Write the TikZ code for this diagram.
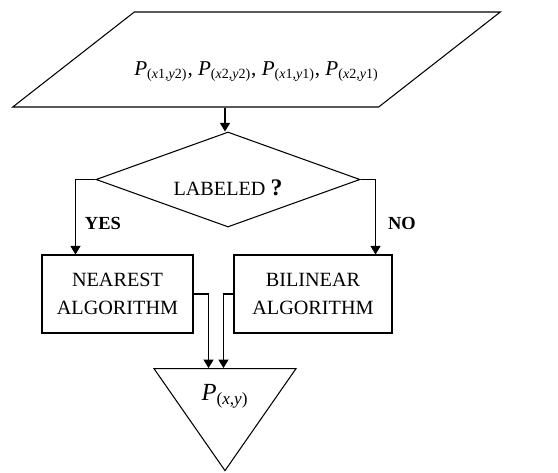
\documentclass[tikz,border=0pt]{standalone}
\usepackage{fontspec}
\setmainfont{Liberation Serif}
\usetikzlibrary{shapes.geometric, arrows.meta, positioning, calc}
\newcommand{\Pnt}[1]{\textit{P}\textsubscript{#1}}
\tikzset{
  iobox/.style={
    trapezium, trapezium left angle=38, trapezium right angle=142,
    draw, line width=0.6pt,
    minimum width=9.7cm,
    inner xsep=0pt, inner ysep=0.64cm, text height=0.62cm, text depth=0pt,
    font=\fontsize{12}{14}\selectfont
  },
  decisionbox/.style={
    diamond, aspect=2.78,
    draw, line width=0.6pt,
    minimum width=5.28cm, minimum height=1.9cm,
    inner sep=0pt, text height=0.62cm, text depth=0pt,
    font=\fontsize{11.5}{14}\selectfont
  },
  algbox/.style={
    rectangle, draw, line width=0.6pt,
    minimum height=1.56cm, align=center,
    font=\fontsize{11.5}{16}\selectfont
  },
  outbox/.style={
    isosceles triangle, shape border rotate=270,
    isosceles triangle stretches,
    draw, line width=0.6pt,
    minimum width=2.84cm, minimum height=2.04cm,
    inner sep=0pt,
    font=\fontsize{14}{16}\selectfont
  },
  branchlabel/.style={font=\fontsize{10.5}{12}\selectfont\bfseries, inner sep=0pt},
  myarrow/.style={-{Triangle[width=0.2cm, length=0.17cm]}, line width=0.6pt}
}

\begin{document}
\begin{tikzpicture}

\useasboundingbox (0,0) rectangle (11.16,-9.46);

\def\midX{4.5}

%% MAIN COLUMN
\node[iobox] (input) at (5.13,-1.19) {
  \Pnt{(\textit{x}1,\textit{y}2)}, \Pnt{(\textit{x}2,\textit{y}2)}, \Pnt{(\textit{x}1,\textit{y}1)}, \Pnt{(\textit{x}2,\textit{y}1)}
};
\node[decisionbox] (labeled) at (4.56,-3.59) {
  LABELED {\fontsize{13.5}{14}\selectfont\bfseries ?}
};

%% ALGORITHMS
\node[algbox, minimum width=3.02cm] (nearest) at (2.35,-5.88) {
  NEAREST\\ALGORITHM
};
\node[algbox, minimum width=3.16cm] (bilinear) at (6.26,-5.88) {
  BILINEAR\\ALGORITHM
};

%% RESULT
\node[outbox, anchor=apex] (result) at (\midX,-9.44) {
  \Pnt{(\textit{x},\textit{y})}
};

%% ARROWS
\draw[myarrow] (input.south -| result.apex) -- (labeled.north -| result.apex);

% labeled -> nearest
\draw[myarrow] (labeled.west) -- ++(-0.4,0) coordinate (yesturn)
  -- (yesturn |- nearest.north)
  node[branchlabel, pos=0.58, right=0.18cm] {YES};

% labeled -> bilinear
\draw[myarrow] (labeled.east) -- ++(0.3,0) coordinate (noturn)
  -- (noturn |- bilinear.north)
  node[branchlabel, pos=0.58, right=0.24cm] {NO};

% algorithms -> result
\draw[myarrow] (nearest.east) -- ++(0.3,0) coordinate (nearturn)
  -- (nearturn |- result.left corner);
\draw[myarrow] (bilinear.west) -- ++(-0.2,0) coordinate (biturn)
  -- (biturn |- result.left corner);

\end{tikzpicture}
\end{document}
